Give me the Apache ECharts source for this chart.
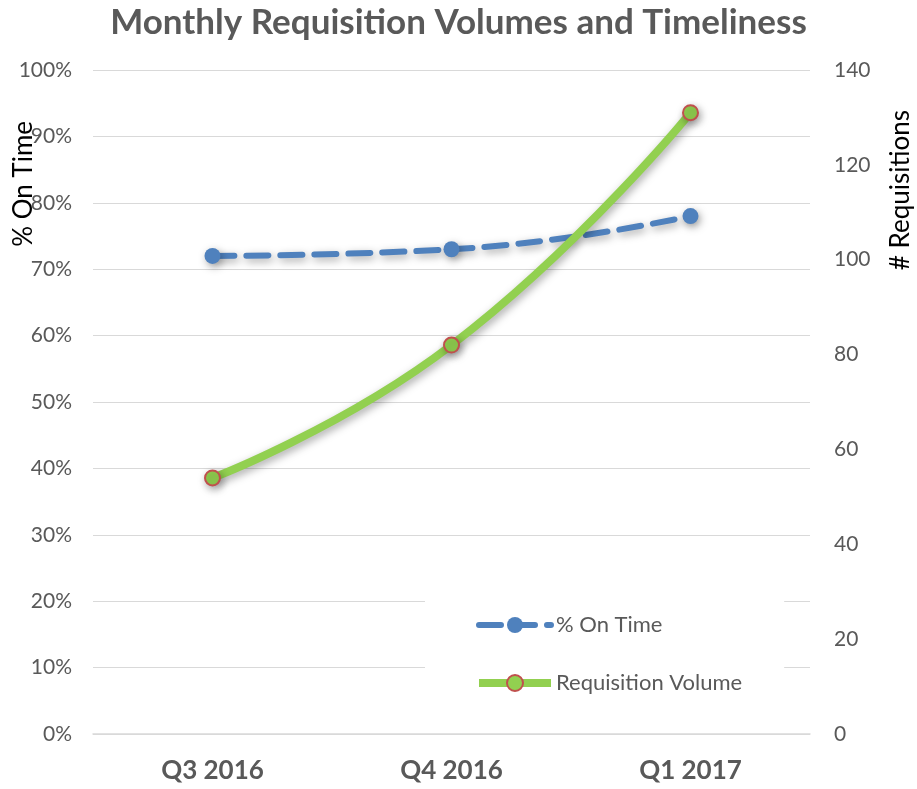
<!DOCTYPE html>
<html><head><meta charset="utf-8">
<script src="https://cdn.jsdelivr.net/npm/echarts@6/dist/echarts.min.js"></script>
<style>html,body{margin:0;padding:0;background:#fff}#c{width:917px;height:789px}</style>
</head><body><div id="c"></div>
<script>
const categories = ['Q3 2016', 'Q4 2016', 'Q1 2017'];
const onTime = [0.72, 0.73, 0.78];
const requisitions = [54, 82, 131];
const leftTicks = [0, 0.1, 0.2, 0.3, 0.4, 0.5, 0.6, 0.7, 0.8, 0.9, 1.0];
const rightTicks = [0, 20, 40, 60, 80, 100, 120, 140];

const FONT = 'Lato';
const chart = echarts.init(document.getElementById('c'));
const shadow = {shadowBlur: 8, shadowColor: 'rgba(0,0,0,0.35)', shadowOffsetX: 2, shadowOffsetY: 3};
chart.setOption({
  animation: false,
  textStyle: {fontFamily: FONT},
  title: {
    text: 'Monthly Requisition Volumes and Timeliness',
    left: 'center', top: 0,
    textStyle: {fontFamily: FONT, fontWeight: 'bold', fontSize: 35, color: '#595959'}
  },
  grid: {left: 93, right: 107, top: 70, bottom: 55},
  legend: {
    orient: 'vertical', left: 425, top: 590,
    padding: [24, 42, 18, 50],
    backgroundColor: '#ffffff',
    itemWidth: 72, itemHeight: 20, itemGap: 36,
    textStyle: {fontFamily: FONT, fontSize: 22, color: '#595959'},
    data: [
      {name: '% On Time', lineStyle: {width: 6}},
      {name: 'Requisition Volume', lineStyle: {width: 8}}
    ]
  },
  xAxis: {
    type: 'category', data: categories, boundaryGap: true,
    axisLine: {lineStyle: {color: '#d9d9d9', width: 1.5}},
    axisTick: {show: false},
    axisLabel: {fontFamily: FONT, fontWeight: 'bold', fontSize: 26, color: '#595959', margin: 24}
  },
  yAxis: [{
    type: 'value', min: 0, max: 1, interval: 0.1,
    axisLine: {show: false}, axisTick: {show: false},
    splitLine: {lineStyle: {color: '#d9d9d9', width: 1.2}},
    axisLabel: {fontFamily: FONT, fontSize: 21, color: '#595959', margin: 21,
      formatter: v => Math.round(v * 100) + '%'}
  }, {
    type: 'value', min: 0, max: 140, interval: 20,
    axisLine: {show: false}, axisTick: {show: false},
    splitLine: {show: false},
    axisLabel: {fontFamily: FONT, fontSize: 21, color: '#595959', margin: 24}
  }],
  graphic: [{
    type: 'text', left: 11, top: 121, rotation: Math.PI / 2,
    style: {text: '% On Time', fontFamily: FONT, fontSize: 26, fill: '#000'}
  }, {
    type: 'text', left: 888, top: 110, rotation: Math.PI / 2,
    style: {text: '# Requisitions', fontFamily: FONT, fontSize: 26, fill: '#000'}
  }],
  series: [{
    name: '% On Time', type: 'line', yAxisIndex: 0, data: onTime, smooth: true,
    symbol: 'circle', symbolSize: 16,
    lineStyle: Object.assign({color: '#4F81BD', width: 6, type: [22, 12], cap: 'round'}, shadow),
    itemStyle: Object.assign({color: '#4F81BD'}, shadow),
    z: 3
  }, {
    name: 'Requisition Volume', type: 'line', yAxisIndex: 1, data: requisitions, smooth: true,
    symbol: 'circle', symbolSize: 15,
    lineStyle: Object.assign({color: '#92D050', width: 8}, shadow),
    itemStyle: Object.assign({color: '#92D050', borderColor: '#C0504D', borderWidth: 2}, shadow),
    z: 4
  }]
});
</script></body></html>
